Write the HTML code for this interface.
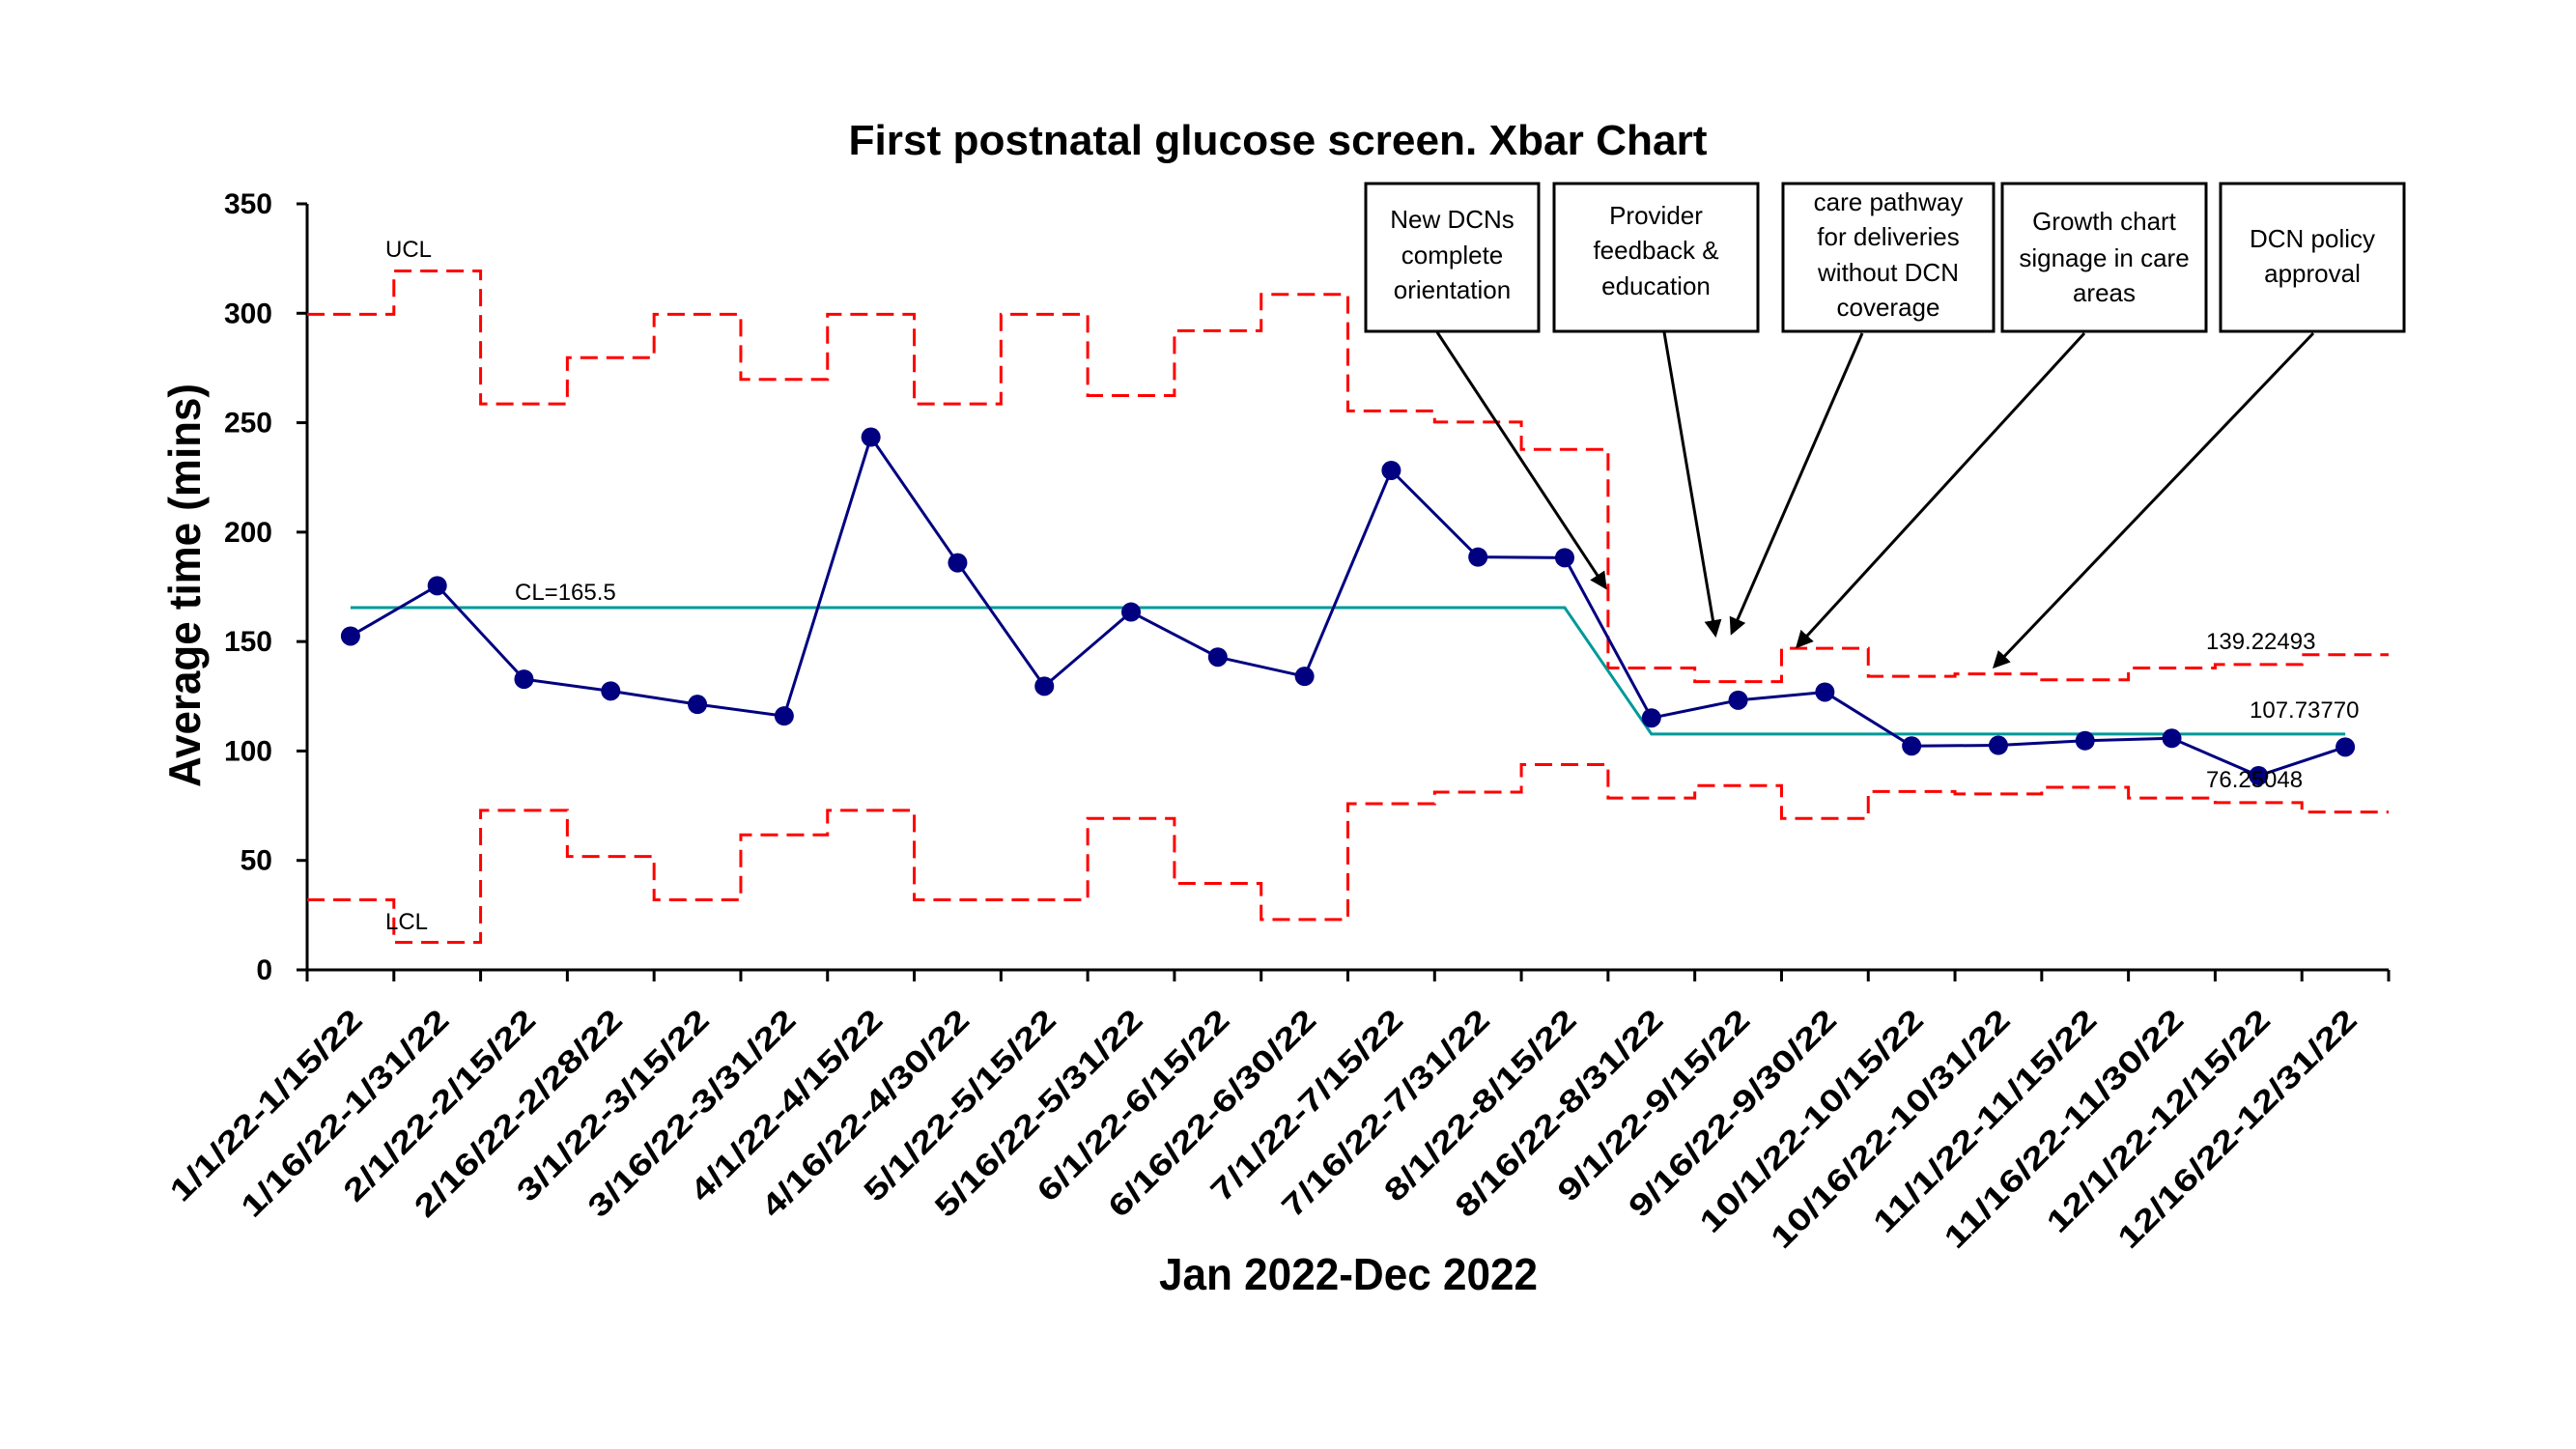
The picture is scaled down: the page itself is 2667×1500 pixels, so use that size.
<!DOCTYPE html>
<html><head><meta charset="utf-8">
<style>
html,body{margin:0;padding:0;background:#fff;}
svg{display:block;font-family:"Liberation Sans",sans-serif;}
</style></head>
<body>
<svg id="chart" width="2667" height="1500" viewBox="0 0 2667 1500" xmlns="http://www.w3.org/2000/svg">
<defs>
<marker id="ah" markerWidth="6" markerHeight="6" refX="5" refY="3" orient="auto" markerUnits="strokeWidth"><path d="M0,0 L6,3 L0,6 z" fill="#000"/></marker>
</defs>
<rect width="2667" height="1500" fill="#fff"/>
<text x="1323" y="160" font-size="44" font-weight="bold" text-anchor="middle" textLength="889" lengthAdjust="spacingAndGlyphs">First postnatal glucose screen. Xbar Chart</text>
<text x="1396" y="1335" font-size="46" font-weight="bold" text-anchor="middle" textLength="392" lengthAdjust="spacingAndGlyphs">Jan 2022-Dec 2022</text>
<text transform="translate(207,606) rotate(-90)" font-size="46" font-weight="bold" text-anchor="middle" textLength="418" lengthAdjust="spacingAndGlyphs">Average time (mins)</text>
<g id="plot"></g>
<g id="annot"></g>
</svg>
<script>
const categories = ["1/1/22-1/15/22","1/16/22-1/31/22","2/1/22-2/15/22","2/16/22-2/28/22","3/1/22-3/15/22","3/16/22-3/31/22","4/1/22-4/15/22","4/16/22-4/30/22","5/1/22-5/15/22","5/16/22-5/31/22","6/1/22-6/15/22","6/16/22-6/30/22","7/1/22-7/15/22","7/16/22-7/31/22","8/1/22-8/15/22","8/16/22-8/31/22","9/1/22-9/15/22","9/16/22-9/30/22","10/1/22-10/15/22","10/16/22-10/31/22","11/1/22-11/15/22","11/16/22-11/30/22","12/1/22-12/15/22","12/16/22-12/31/22"];
const means = [152.5,175.5,132.8,127.4,121.3,116,243.4,186,129.6,163.5,142.9,134.1,228.2,188.6,188.3,115.1,123.2,126.9,102.3,102.6,104.7,105.8,88.7,101.8];
const ucl = [299.5,319.3,258.6,279.7,299.5,269.8,299.5,258.6,299.5,262.4,292,308.6,255.4,250.3,237.8,137.9,131.7,146.9,134.1,135.2,132.5,137.9,139.5,144];
const lcl = [32,12.6,72.9,51.8,32,61.7,72.9,32,32,69.2,39.5,23,75.9,81.2,93.8,78.5,84.2,69.2,81.5,80.4,83.4,78.5,76.4,72.1];
const centerLine = [165.5,165.5,165.5,165.5,165.5,165.5,165.5,165.5,165.5,165.5,165.5,165.5,165.5,165.5,165.5,107.7377,107.7377,107.7377,107.7377,107.7377,107.7377,107.7377,107.7377,107.7377];
const yTicks = [0,50,100,150,200,250,300,350];
const yMax = 350;

const NS = "http://www.w3.org/2000/svg";
const X0 = 318, X1 = 2473, Y0 = 1004, Y1 = 211;
const n = categories.length;
const step = (X1 - X0) / n;
function xEdge(i){ return X0 + i * step; }
function xC(i){ return X0 + (i + 0.5) * step; }
function yS(v){ return Y0 - v / yMax * (Y0 - Y1); }
const plot = document.getElementById('plot');
function mk(tag, attrs, parent){
  const e = document.createElementNS(NS, tag);
  for (const k in attrs) e.setAttribute(k, attrs[k]);
  (parent || plot).appendChild(e);
  return e;
}

// axes
let ax = mk('line', {x1:X0, y1:Y1, x2:X0, y2:Y0, stroke:'#000', 'stroke-width':3});


ax = mk('line', {x1:X0-11, y1:Y0, x2:X1, y2:Y0, stroke:'#000', 'stroke-width':3});


yTicks.forEach(v => {
  const t = mk('line', {x1:X0-11, y1:yS(v), x2:X0, y2:yS(v), stroke:'#000', 'stroke-width':3});
  
  
  const l = mk('text', {x:282, y:yS(v)+10, 'font-size':30, 'font-weight':'bold', 'text-anchor':'end'});
  l.textContent = v;
  
  
});
for (let i = 0; i <= n; i++) {
  const t = mk('line', {x1:xEdge(i), y1:Y0, x2:xEdge(i), y2:Y0+12, stroke:'#000', 'stroke-width':3});
  
  
}
function emw(s){ let w=0; for (const c of s){ w += (c==='/') ? 0.278 : (c==='-') ? 0.333 : 0.556; } return w; }
categories.forEach((c, i) => {
  const x = xC(i) + 14, y = 1058;
  const t = mk('text', {x:x, y:y, 'font-size':32, 'font-weight':'bold', 'text-anchor':'end', transform:`rotate(-45 ${x} ${y})`, textLength:(emw(c)*41.2).toFixed(1), lengthAdjust:'spacingAndGlyphs'});
  t.textContent = c;
  
  
});

// control limits as step lines
function stepPath(arr){
  let d = '';
  arr.forEach((v, i) => {
    d += (i === 0 ? 'M' : 'L') + xEdge(i) + ',' + yS(v) + ' L' + xEdge(i+1) + ',' + yS(v) + ' ';
  });
  return d;
}
let p = mk('path', {d:stepPath(ucl), fill:'none', stroke:'#ff0000', 'stroke-width':3, 'stroke-dasharray':'18 9'});


p = mk('path', {d:stepPath(lcl), fill:'none', stroke:'#ff0000', 'stroke-width':3, 'stroke-dasharray':'18 9'});



// center line
p = mk('polyline', {points:centerLine.map((v,i)=>xC(i)+','+yS(v)).join(' '), fill:'none', stroke:'#009999', 'stroke-width':3});



// data series
p = mk('polyline', {points:means.map((v,i)=>xC(i)+','+yS(v)).join(' '), fill:'none', stroke:'#000080', 'stroke-width':3});


means.forEach((v, i) => {
  const c = mk('circle', {cx:xC(i), cy:yS(v), r:10, fill:'#000080'});
  
  
});

// labels
function lbl(txt, x, y, name){
  const t = mk('text', {x:x, y:y, 'font-size':24});
  t.textContent = txt;
  
  
}
lbl('UCL', 399, 266, 'ucl-label');
lbl('LCL', 399, 962, 'lcl-label');
lbl('CL=165.5', 533, 621, 'cl-label');
lbl('139.22493', 2284, 672, 'ucl-value-label');
lbl('107.73770', 2329, 743, 'cl-value-label');
lbl('76.25048', 2284, 815, 'lcl-value-label');

// annotations
const annot = document.getElementById('annot');
const boxes = [
  {x1:1414,x2:1593,lines:['New DCNs','complete','orientation'],ys:[227,264,300],from:[1488,344],to:[1662,608],name:'annotation-new-dcns'},
  {x1:1609,x2:1820,lines:['Provider','feedback &','education'],ys:[223,259,296],from:[1723,344],to:[1776,657],name:'annotation-provider-feedback'},
  {x1:1846,x2:2064,lines:['care pathway','for deliveries','without DCN','coverage'],ys:[209,245,282,318],from:[1928,345],to:[1793,655],name:'annotation-care-pathway'},
  {x1:2073,x2:2284,lines:['Growth chart','signage in care','areas'],ys:[229,267,303],from:[2158,345],to:[1861,669],name:'annotation-growth-chart'},
  {x1:2299,x2:2489,lines:['DCN policy','approval'],ys:[247,283],from:[2395,345],to:[2065,690],name:'annotation-dcn-policy'}
];
boxes.forEach(b => {
  const g = mk('g', {}, annot);
  
  
  mk('rect', {x:b.x1, y:190, width:b.x2-b.x1, height:153, fill:'#fff', stroke:'#000', 'stroke-width':3}, g);
  b.lines.forEach((l, k) => {
    const t = mk('text', {x:(b.x1+b.x2)/2, y:b.ys[k]+9, 'font-size':26, 'text-anchor':'middle'}, g);
    t.textContent = l;
  });
  const a = mk('line', {x1:b.from[0], y1:b.from[1], x2:b.to[0], y2:b.to[1], stroke:'#000', 'stroke-width':3, 'marker-end':'url(#ah)'}, g);
  
  
});
</script>
</body></html>
